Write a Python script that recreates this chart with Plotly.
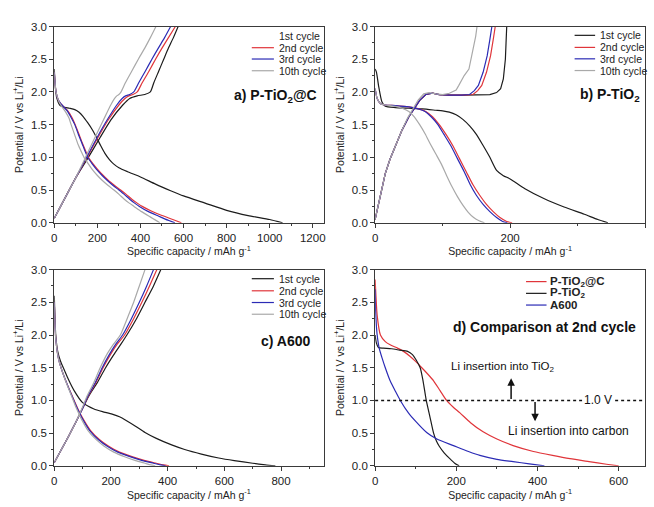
import plotly.graph_objects as go

# ---------------- data ----------------
CYCLE_LABELS = ["1st cycle", "2nd cycle", "3rd cycle", "10th cycle"]
CYCLE_COLORS = ["#1c1c1c", "#e0353a", "#2b2bb5", "#a9a9a9"]

# Panel a) P-TiO2@C  (capacity mAh/g, potential V)
A_DIS = [
    ([0, 4, 12, 25, 40, 70, 95, 115, 135, 155, 175, 195, 215, 235, 255, 275, 300, 340, 400, 470, 540, 600, 700, 800, 900, 1000, 1060],
     [2.35, 2.1, 1.9, 1.8, 1.77, 1.75, 1.73, 1.69, 1.62, 1.53, 1.43, 1.31, 1.18, 1.06, 0.97, 0.9, 0.84, 0.78, 0.7, 0.59, 0.49, 0.41, 0.3, 0.19, 0.11, 0.05, 0.0]),
    ([0, 3, 8, 18, 30, 60, 80, 97, 115, 130, 145, 158, 180, 200, 225, 250, 280, 308, 335, 360, 385, 408, 450, 500, 550, 590],
     [2.3, 2.15, 2.0, 1.88, 1.82, 1.72, 1.62, 1.5, 1.35, 1.22, 1.1, 1.0, 0.9, 0.82, 0.73, 0.65, 0.57, 0.5, 0.43, 0.36, 0.3, 0.25, 0.18, 0.11, 0.05, 0.0]),
    ([0, 3, 8, 18, 30, 60, 78, 95, 112, 128, 142, 155, 176, 195, 220, 245, 273, 300, 326, 350, 373, 395, 437, 485, 527, 560],
     [2.3, 2.15, 2.0, 1.88, 1.82, 1.71, 1.61, 1.5, 1.35, 1.22, 1.1, 1.0, 0.9, 0.82, 0.73, 0.65, 0.57, 0.5, 0.43, 0.36, 0.3, 0.25, 0.17, 0.1, 0.04, 0.0]),
    ([0, 3, 8, 18, 30, 55, 68, 78, 95, 110, 125, 138, 158, 175, 198, 222, 250, 277, 302, 325, 348, 370, 405, 445, 470, 490],
     [2.3, 2.15, 2.0, 1.88, 1.8, 1.68, 1.6, 1.5, 1.34, 1.2, 1.09, 1.0, 0.9, 0.82, 0.73, 0.65, 0.57, 0.5, 0.43, 0.36, 0.3, 0.25, 0.17, 0.09, 0.04, 0.0]),
]
A_CHG_V = [0.07, 0.38, 0.69, 1.0, 1.3, 1.57, 1.8, 1.9, 1.94, 1.96, 2.0, 2.14, 2.32, 2.5, 2.67, 2.83, 3.0]
A_CHG_X = [
    [0, 50, 100, 158, 212, 262, 318, 350, 385, 420, 446, 462, 485, 508, 530, 553, 575],
    [0, 50, 100, 152, 202, 250, 300, 328, 346, 365, 385, 408, 440, 470, 500, 530, 562],
    [0, 50, 100, 150, 198, 245, 290, 315, 331, 350, 369, 392, 423, 453, 483, 512, 540],
    [0, 50, 100, 145, 188, 228, 262, 280, 290, 300, 310, 330, 360, 390, 420, 446, 472],
]

# Panel b) P-TiO2
B_DIS = [
    ([0, 2, 5, 10, 15, 30, 50, 70, 90, 100, 110, 120, 130, 140, 150, 160, 170, 180, 190, 200, 222, 250, 280, 310, 330, 345],
     [2.35, 2.3, 2.1, 1.85, 1.78, 1.76, 1.75, 1.74, 1.72, 1.71, 1.69, 1.65, 1.58, 1.48, 1.35, 1.18, 1.0, 0.8, 0.72, 0.67, 0.52, 0.37, 0.24, 0.13, 0.05, 0.0]),
    ([0, 3, 8, 15, 30, 50, 65, 75, 85, 95, 105, 115, 125, 135, 145, 155, 165, 175, 185, 195, 203],
     [2.05, 1.9, 1.82, 1.8, 1.79, 1.77, 1.74, 1.7, 1.62, 1.5, 1.35, 1.18, 0.98, 0.78, 0.58, 0.42, 0.28, 0.17, 0.08, 0.02, 0.0]),
    ([0, 3, 8, 15, 30, 50, 64, 74, 83, 93, 102, 112, 122, 132, 141, 150, 160, 170, 180, 189, 196],
     [2.05, 1.9, 1.82, 1.8, 1.79, 1.77, 1.74, 1.7, 1.62, 1.5, 1.35, 1.18, 0.98, 0.78, 0.58, 0.42, 0.28, 0.17, 0.08, 0.02, 0.0]),
    ([0, 3, 8, 15, 30, 40, 50, 58, 66, 74, 82, 90, 98, 106, 114, 122, 130, 138, 146, 154, 162],
     [2.05, 1.9, 1.82, 1.8, 1.78, 1.75, 1.7, 1.62, 1.5, 1.36, 1.2, 1.05, 0.9, 0.72, 0.55, 0.4, 0.27, 0.16, 0.08, 0.03, 0.0]),
]
B_CHG = [
    ([0, 3, 8, 15, 22, 30, 40, 50, 58, 66, 75, 85, 95, 110, 130, 150, 170, 180, 186, 190, 193, 194, 195],
     [0.05, 0.2, 0.45, 0.75, 0.97, 1.18, 1.42, 1.62, 1.75, 1.87, 1.96, 1.98, 1.96, 1.95, 1.95, 1.95, 1.96, 1.99, 2.05, 2.2, 2.5, 2.75, 3.0]),
    ([0, 3, 8, 15, 22, 30, 40, 50, 58, 66, 75, 85, 95, 110, 130, 145, 152, 158, 165, 171, 175, 178],
     [0.05, 0.2, 0.45, 0.75, 0.97, 1.18, 1.42, 1.62, 1.75, 1.87, 1.96, 1.98, 1.96, 1.95, 1.95, 1.96, 2.02, 2.1, 2.3, 2.55, 2.8, 3.0]),
    ([0, 3, 8, 15, 22, 30, 40, 50, 58, 66, 75, 85, 95, 110, 128, 140, 147, 153, 160, 166, 170, 173],
     [0.05, 0.2, 0.45, 0.75, 0.97, 1.18, 1.42, 1.62, 1.75, 1.87, 1.96, 1.98, 1.96, 1.95, 1.95, 1.96, 2.02, 2.1, 2.3, 2.55, 2.8, 3.0]),
    ([0, 3, 8, 15, 22, 30, 40, 48, 56, 64, 72, 80, 90, 100, 110, 120, 124, 132, 139, 146, 149, 151],
     [0.05, 0.2, 0.45, 0.75, 0.97, 1.18, 1.42, 1.6, 1.75, 1.88, 1.97, 1.99, 1.97, 1.96, 1.98, 2.03, 2.1, 2.25, 2.35, 2.67, 2.85, 3.0]),
]

# Panel c) A600
C_DIS = [
    ([0, 2, 5, 12, 22, 35, 50, 70, 99, 120, 140, 170, 204, 230, 255, 285, 320, 360, 414, 460, 519, 580, 635, 700, 745, 780],
     [2.6, 2.3, 2.0, 1.75, 1.6, 1.47, 1.32, 1.15, 0.97, 0.91, 0.87, 0.83, 0.79, 0.75, 0.69, 0.61, 0.51, 0.42, 0.32, 0.25, 0.18, 0.12, 0.08, 0.04, 0.015, 0.0]),
    ([0, 2, 5, 12, 20, 30, 45, 58, 70, 82, 100, 128, 160, 192, 230, 274, 320, 360, 385, 405],
     [2.5, 2.2, 1.95, 1.7, 1.55, 1.42, 1.25, 1.12, 1.0, 0.88, 0.73, 0.54, 0.4, 0.3, 0.21, 0.14, 0.08, 0.04, 0.015, 0.0]),
    ([0, 2, 5, 12, 20, 30, 45, 57, 69, 81, 98, 125, 156, 187, 224, 267, 311, 350, 374, 393],
     [2.5, 2.2, 1.95, 1.7, 1.55, 1.42, 1.25, 1.12, 1.0, 0.88, 0.73, 0.54, 0.4, 0.3, 0.21, 0.14, 0.08, 0.04, 0.015, 0.0]),
    ([0, 2, 5, 12, 20, 30, 44, 56, 67, 78, 94, 119, 148, 176, 210, 248, 287, 320, 340, 356],
     [2.5, 2.2, 1.95, 1.7, 1.55, 1.42, 1.25, 1.12, 1.0, 0.88, 0.73, 0.54, 0.4, 0.3, 0.21, 0.14, 0.08, 0.04, 0.015, 0.0]),
]
C_CHG_V = [0.05, 0.25, 0.45, 0.66, 0.88, 1.07, 1.26, 1.5, 1.7, 1.86, 2.0, 2.25, 2.5, 2.75, 3.0]
C_CHG_X = [
    [0, 25, 50, 75, 100, 122, 150, 181, 210, 235, 256, 290, 320, 350, 376],
    [0, 25, 50, 75, 100, 120, 145, 172, 198, 222, 248, 280, 309, 336, 362],
    [0, 25, 50, 75, 100, 119, 143, 169, 194, 217, 241, 272, 300, 326, 350],
    [0, 25, 50, 75, 98, 116, 138, 162, 185, 209, 233, 257, 280, 300, 320],
]

# Panel d) comparison at 2nd cycle (discharge)
D_LABELS = ["P-TiO<sub>2</sub>@C", "P-TiO<sub>2</sub>", "A600"]
D_COLORS = ["#e0353a", "#1c1c1c", "#2b2bb5"]
D_CURVES = [
    ([0, 2, 5, 13, 25, 37, 55, 70, 85, 99, 115, 130, 144, 160, 176, 192, 209, 235, 266, 300, 340, 390, 437, 480, 527, 570, 600],
     [2.85, 2.6, 2.3, 2.0, 1.9, 1.85, 1.8, 1.75, 1.68, 1.6, 1.5, 1.4, 1.3, 1.15, 1.0, 0.9, 0.81, 0.66, 0.52, 0.41, 0.31, 0.22, 0.16, 0.11, 0.065, 0.025, 0.0]),
    ([0, 3, 8, 20, 40, 60, 80, 92, 100, 111, 118, 126, 135, 144, 151, 158, 170, 184, 196, 207],
     [2.0, 1.88, 1.81, 1.8, 1.79, 1.77, 1.75, 1.7, 1.63, 1.5, 1.3, 1.0, 0.75, 0.5, 0.38, 0.3, 0.2, 0.11, 0.04, 0.0]),
    ([0, 1, 3, 5, 10, 17, 25, 37, 50, 62, 82, 100, 127, 152, 193, 230, 258, 300, 340, 380, 417],
     [2.7, 2.4, 2.15, 2.0, 1.8, 1.65, 1.5, 1.3, 1.14, 1.0, 0.81, 0.68, 0.51, 0.41, 0.31, 0.22, 0.16, 0.1, 0.065, 0.03, 0.0]),
]
THRESHOLD_V = 1.0

PANEL_TITLES = ["a) P-TiO<sub>2</sub>@C", "b) P-TiO<sub>2</sub>", "c) A600", "d) Comparison at 2nd cycle"]
X_RANGES = [[0, 1250], [0, 400], [0, 950], [0, 665]]
Y_RANGE = [0, 3]
X_TITLE = "Specific capacity / mAh g<sup>-1</sup>"
Y_TITLE = "Potential / V vs Li<sup>+</sup>/Li"

# ---------------- figure ----------------
W, H = 654, 507
FONT = "Arial, 'Liberation Sans', sans-serif"
fig = go.Figure()

def px_dom(x0, x1, y0, y1):
    return [x0 / W, x1 / W], [1 - y1 / H, 1 - y0 / H]

doms = [px_dom(51.7, 323, 21, 222), px_dom(375, 647, 21, 222),
        px_dom(51.7, 323, 270, 471), px_dom(375, 647, 270, 471)]

def ax_names(i):
    s = "" if i == 0 else str(i + 1)
    return "x" + s, "y" + s

LW = 1.2

def add_curve(x, y, color, i, shape="spline"):
    xa, ya = ax_names(i)
    fig.add_trace(go.Scatter(x=x, y=y, mode="lines",
                             line=dict(color=color, width=LW, shape=shape, smoothing=0.6),
                             xaxis=xa, yaxis=ya, showlegend=False, hoverinfo="skip"))

for k in range(4):
    add_curve(A_DIS[k][0], A_DIS[k][1], CYCLE_COLORS[k], 0)
    add_curve(A_CHG_X[k], A_CHG_V, CYCLE_COLORS[k], 0)
for k in range(4):
    add_curve(B_DIS[k][0], B_DIS[k][1], CYCLE_COLORS[k], 1)
    add_curve(B_CHG[k][0], B_CHG[k][1], CYCLE_COLORS[k], 1, shape="linear")
for k in range(4):
    add_curve(C_DIS[k][0], C_DIS[k][1], CYCLE_COLORS[k], 2)
    add_curve(C_CHG_X[k], C_CHG_V, CYCLE_COLORS[k], 2)
for k in range(3):
    add_curve(D_CURVES[k][0], D_CURVES[k][1], D_COLORS[k], 3)

AX_COLOR = "#3a3a3a"
for i in range(4):
    s = "" if i == 0 else str(i + 1)
    xd, yd = doms[i]
    fig.update_layout(**{
        "xaxis" + s: dict(domain=xd, range=X_RANGES[i], anchor="y" + s, dtick=200, tick0=0,
                           showline=True, linecolor=AX_COLOR, linewidth=1, mirror=True,
                           ticks="outside", ticklen=4, tickwidth=1, tickcolor=AX_COLOR,
                           minor=dict(ticks="outside", ticklen=2, dtick=100, tickcolor=AX_COLOR),
                           showgrid=False, zeroline=False,
                           tickfont=dict(family=FONT, size=11.5, color="#222"),
                           title=dict(text=X_TITLE, font=dict(family=FONT, size=10.5, color="#222"), standoff=5)),
        "yaxis" + s: dict(domain=yd, range=Y_RANGE, anchor="x" + s, dtick=0.5, tickformat=".1f",
                           showline=True, linecolor=AX_COLOR, linewidth=1, mirror=True,
                           ticks="outside", ticklen=4, tickwidth=1, tickcolor=AX_COLOR,
                           minor=dict(ticks="outside", ticklen=2, dtick=0.25, tickcolor=AX_COLOR),
                           showgrid=False, zeroline=False,
                           tickfont=dict(family=FONT, size=11.5, color="#222"),
                           title=dict(text=Y_TITLE, font=dict(family=FONT, size=10.5, color="#222"), standoff=5)),
    })

shapes = []
annotations = []

# manual legends for panels a, b, c
leg_specs = [
    (0, 0.7335, 0.8157, 0.8268, [0.9517, 0.8920, 0.8343, 0.7746]),
    (1, 0.739, 0.815, 0.8246, [0.9550, 0.8935, 0.8353, 0.7756]),
    (2, 0.7335, 0.8157, 0.8268, [0.9537, 0.8920, 0.8323, 0.7726]),
]
for (i, x0, x1, xt, ys) in leg_specs:
    xa, ya = ax_names(i)
    for k in range(4):
        shapes.append(dict(type="line", xref=xa + " domain", yref=ya + " domain", x0=x0, x1=x1, y0=ys[k], y1=ys[k],
                           line=dict(color=CYCLE_COLORS[k], width=1.2)))
        annotations.append(dict(xref=xa + " domain", yref=ya + " domain", x=xt, y=ys[k], text=CYCLE_LABELS[k],
                                showarrow=False, xanchor="left", yanchor="middle",
                                font=dict(family=FONT, size=10.5, color="#222")))
# legend panel d
xa, ya = ax_names(3)
for k, yy in enumerate([0.9388, 0.879, 0.8194]):
    shapes.append(dict(type="line", xref=xa + " domain", yref=ya + " domain", x0=0.559, x1=0.635, y0=yy, y1=yy,
                       line=dict(color=D_COLORS[k], width=1.2)))
    annotations.append(dict(xref=xa + " domain", yref=ya + " domain", x=0.642, y=yy, text="<b>" + D_LABELS[k] + "</b>",
                            showarrow=False, xanchor="left", yanchor="middle",
                            font=dict(family=FONT, size=11.5, color="#222")))

# panel titles
title_pos = [(0, 0.982, 1.94, 14), (1, 0.99, 1.96, 14), (2, 0.96, 1.91, 14), (3, 0.975, 2.12, 14)]
for (i, xr, yv, fs) in title_pos:
    xa, ya = ax_names(i)
    annotations.append(dict(xref=xa + " domain", yref=ya, x=xr, y=yv, text="<b>" + PANEL_TITLES[i] + "</b>",
                            showarrow=False, xanchor="right", yanchor="middle",
                            font=dict(family=FONT, size=fs, color="#111")))

# panel d threshold line and annotations
fig.add_hline(y=THRESHOLD_V, line=dict(color="#111", width=1.5, dash="dot"), xref="x4", yref="y4")
xa, ya = "x4", "y4"
annotations.append(dict(xref=xa, yref=ya, x=548, y=THRESHOLD_V, text="1.0 V", showarrow=False,
                        bgcolor="white", xanchor="center", yanchor="middle",
                        font=dict(family=FONT, size=12, color="#111")))
annotations.append(dict(xref=xa, yref=ya, x=313, y=1.51, text="Li insertion into TiO<sub>2</sub>", showarrow=False,
                        xanchor="center", yanchor="middle", font=dict(family=FONT, size=11.5, color="#111")))
annotations.append(dict(xref=xa, yref=ya, x=477, y=0.54, text="Li insertion into carbon", showarrow=False,
                        xanchor="center", yanchor="middle", font=dict(family=FONT, size=12, color="#111")))
annotations.append(dict(xref=xa, yref=ya, x=335, y=1.34, ax=335, ay=THRESHOLD_V, axref=xa, ayref=ya, text="",
                        showarrow=True, arrowhead=2, arrowsize=1, arrowwidth=1.5, arrowcolor="#111"))
annotations.append(dict(xref=xa, yref=ya, x=394, y=0.68, ax=394, ay=THRESHOLD_V, axref=xa, ayref=ya, text="",
                        showarrow=True, arrowhead=2, arrowsize=1, arrowwidth=1.5, arrowcolor="#111"))

fig.update_layout(width=W, height=H, margin=dict(l=0, r=0, t=0, b=0),
                  paper_bgcolor="white", plot_bgcolor="white",
                  shapes=shapes, annotations=annotations, showlegend=False,
                  font=dict(family=FONT, color="#222"))

fig.write_html("out.html", config={"responsive": False, "displayModeBar": False},
               post_script="document.body.style.margin='0px';document.body.style.padding='0px';")
